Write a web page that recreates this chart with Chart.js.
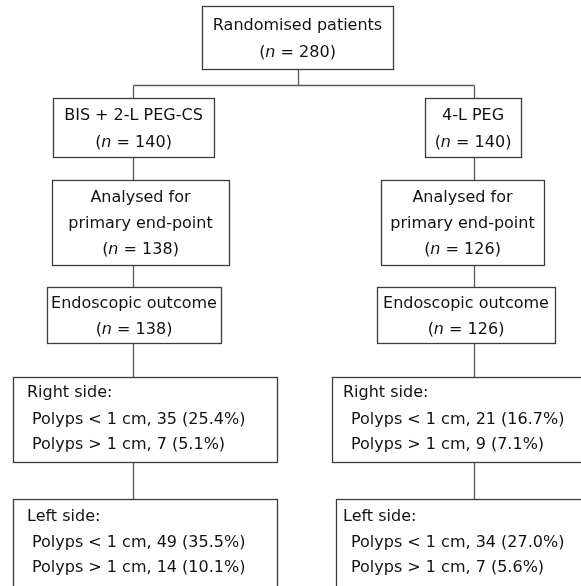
<!DOCTYPE html>
<html>
<head>
<meta charset="utf-8">
<script src="https://cdn.jsdelivr.net/npm/chart.js@4.4.1/dist/chart.umd.min.js"></script>
<style>
  html, body { margin: 0; padding: 0; background: #fff; }
  #wrap { width: 581px; height: 586px; position: relative; }
</style>
</head>
<body>
<div id="wrap"><canvas id="flow"></canvas></div>
<script>
// flowchart numbers
const randomised = 280;
const groups = ['BIS + 2-L PEG-CS', '4-L PEG'];
const allocated = [140, 140];
const analysed = [138, 126];
const endoscopic = [138, 126];
const rightSmall = [35, 21];
const rightSmallPct = [25.4, 16.7];
const rightLarge = [7, 9];
const rightLargePct = [5.1, 7.1];
const leftSmall = [49, 34];
const leftSmallPct = [35.5, 27.0];
const leftLarge = [14, 7];
const leftLargePct = [10.1, 5.6];

const FONT = '16px "DejaVu Sans", Tahoma, sans-serif';
const FONT_I = 'italic 16px "DejaVu Sans", Tahoma, sans-serif';
const BORDER = '#3c3c3c';
const LINK = '#5a5a5a';

// layout in canvas units (x0, y0, x1, y1)
const colX = [133, 474];
const layout = {
  top: [202, 6, 393, 69],
  alloc: [[53, 98, 214, 157], [425, 98, 521, 157]],
  anal: [[52, 180, 229, 265], [381, 180, 544, 265]],
  endo: [[47, 287, 221, 343], [377, 287, 555, 343]],
  right: [[13, 377, 277, 462], [332, 377, 590, 462]],
  left: [[13, 499, 277, 600], [336, 499, 590, 600]],
  split: 85
};

function nLine(v) { return [['(', false], ['n', true], [' = ' + v + ')', false]]; }
function pct(v) { return v.toFixed(1) + '%'; }

function drawSegs(ctx, segs, x, y, align) {
  let w = 0;
  segs.forEach(s => { ctx.font = s[1] ? FONT_I : FONT; w += ctx.measureText(s[0]).width; });
  let cx = align === 'center' ? x - w / 2 : x;
  segs.forEach(s => {
    ctx.font = s[1] ? FONT_I : FONT;
    ctx.fillText(s[0], cx, y);
    cx += ctx.measureText(s[0]).width;
  });
}

const flowPlugin = {
  id: 'flow',
  afterDraw(chart) {
    const ctx = chart.ctx;
    const xs = chart.scales.x, ys = chart.scales.y;
    const px = v => xs.getPixelForValue(v);
    const py = v => ys.getPixelForValue(v);
    ctx.save();
    ctx.textBaseline = 'middle';
    ctx.textAlign = 'left';
    ctx.fillStyle = '#111';

    function box(b) {
      ctx.strokeStyle = BORDER;
      ctx.lineWidth = 1.3;
      ctx.strokeRect(px(b[0]) + 0.5, py(b[1]) + 0.5, px(b[2]) - px(b[0]), py(b[3]) - py(b[1]));
    }
    function link(pts) {
      ctx.strokeStyle = LINK;
      ctx.lineWidth = 1.3;
      ctx.beginPath();
      pts.forEach((p, i) => {
        const X = Math.round(px(p[0])) + 0.5, Y = Math.round(py(p[1])) + 0.5;
        i ? ctx.lineTo(X, Y) : ctx.moveTo(X, Y);
      });
      ctx.stroke();
    }
    function centerText(b, lines, dy) {
      const cx = px((b[0] + b[2]) / 2);
      const n = lines.length;
      const mid = py((b[1] + b[3]) / 2 + 1.5);
      lines.forEach((l, i) => {
        const segs = typeof l === 'string' ? [[l, false]] : l;
        drawSegs(ctx, segs, cx, mid + (i - (n - 1) / 2) * dy, 'center');
      });
    }

    // connectors
    const tb = layout.top;
    link([[(tb[0] + tb[2]) / 2, tb[3]], [(tb[0] + tb[2]) / 2, layout.split]]);
    link([[colX[0], layout.split], [colX[1], layout.split]]);
    for (let g = 0; g < 2; g++) {
      link([[colX[g], layout.split], [colX[g], layout.alloc[g][1]]]);
      link([[colX[g], layout.alloc[g][3]], [colX[g], layout.anal[g][1]]]);
      link([[colX[g], layout.anal[g][3]], [colX[g], layout.endo[g][1]]]);
      link([[colX[g], layout.endo[g][3]], [colX[g], layout.right[g][1]]]);
      link([[colX[g], layout.right[g][3]], [colX[g], layout.left[g][1]]]);
    }

    box(tb);
    centerText(tb, ['Randomised patients', nLine(randomised)], 27);
    for (let g = 0; g < 2; g++) {
      box(layout.alloc[g]);
      centerText(layout.alloc[g], [groups[g], nLine(allocated[g])], 27);
      box(layout.anal[g]);
      centerText(layout.anal[g], ['Analysed for', 'primary end-point', nLine(analysed[g])], 26);
      box(layout.endo[g]);
      centerText(layout.endo[g], ['Endoscopic outcome', nLine(endoscopic[g])], 26);

      const hx = g ? 343 : 27, ix = g ? 351 : 32;
      const rb = layout.right[g];
      box(rb);
      ctx.font = FONT;
      ctx.fillText('Right side:', px(hx), py(rb[1] + 16));
      ctx.fillText('Polyps < 1 cm, ' + rightSmall[g] + ' (' + pct(rightSmallPct[g]) + ')', px(ix), py(rb[1] + 43));
      ctx.fillText('Polyps > 1 cm, ' + rightLarge[g] + ' (' + pct(rightLargePct[g]) + ')', px(ix), py(rb[1] + 68));

      const lb = layout.left[g];
      box(lb);
      ctx.fillText('Left side:', px(hx), py(lb[1] + 18));
      ctx.fillText('Polyps < 1 cm, ' + leftSmall[g] + ' (' + pct(leftSmallPct[g]) + ')', px(ix), py(lb[1] + 44));
      ctx.fillText('Polyps > 1 cm, ' + leftLarge[g] + ' (' + pct(leftLargePct[g]) + ')', px(ix), py(lb[1] + 69));
    }
    ctx.restore();
  }
};

new Chart(document.getElementById('flow'), {
  type: 'scatter',
  data: { datasets: [{ data: [], pointRadius: 0 }] },
  options: {
    responsive: true,
    maintainAspectRatio: false,
    animation: false,
    layout: { padding: 0 },
    plugins: { legend: { display: false }, tooltip: { enabled: false } },
    scales: {
      x: { type: 'linear', min: 0, max: 581, display: false },
      y: { type: 'linear', min: 0, max: 586, reverse: true, display: false }
    }
  },
  plugins: [flowPlugin]
});
</script>
</body>
</html>
